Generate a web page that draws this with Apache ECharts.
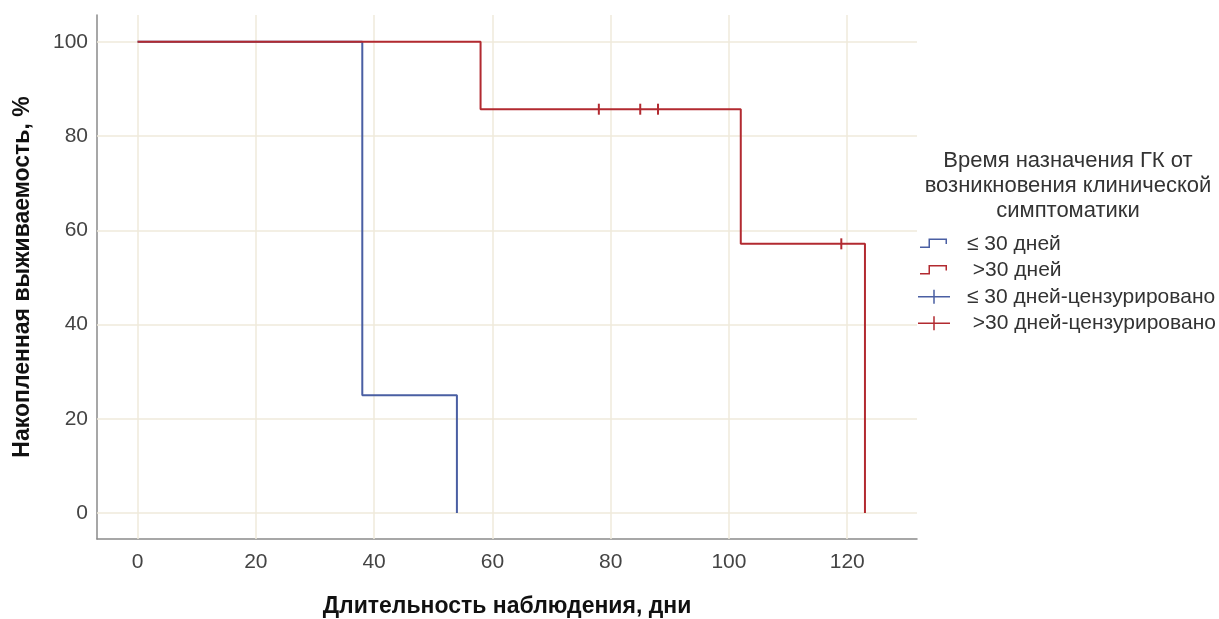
<!DOCTYPE html>
<html>
<head>
<meta charset="utf-8">
<script src="https://cdn.jsdelivr.net/npm/echarts@6/dist/echarts.min.js"></script>
<style>html,body{margin:0;padding:0;background:#fff}#c{width:1219px;height:619px}</style>
</head>
<body>
<div id="c"></div>
<script>
// ---- data ----
var xTicks = [0, 20, 40, 60, 80, 100, 120];
var yTicks = [0, 20, 40, 60, 80, 100];
// ≤ 30 дней: step curve (time, survival %)
var blueTimes = [0, 38, 54];
var blueSurv = [100, 25, 0];
// >30 дней
var redTimes = [0, 58, 102, 123];
var redSurv = [100, 85.71, 57.14, 0];
// censored observations
var blueCensTimes = [];
var blueCensSurv = [];
var redCensTimes = [78, 85, 88, 119];
var redCensSurv = [85.71, 85.71, 85.71, 57.14];
var seriesNames = ['≤ 30 дней', ' >30 дней', '≤ 30 дней-цензурировано', ' >30 дней-цензурировано'];
var legendTitle = 'Время назначения ГК от\nвозникновения клинической\nсимптоматики';
var xTitle = 'Длительность наблюдения, дни';
var yTitle = 'Накопленная выживаемость, %';

function zip(a, b) { return a.map(function (v, i) { return [v, b[i]]; }); }

var BLUE = '#4a5fa3';
var RED = '#b22a30';
var FONT = '"Liberation Sans", Arial, sans-serif';
var PAD = ' M0,0 L0.01,0 Z M32,14 L31.99,14 Z';
var stepIcon = 'path://M2,9.5 L10.5,9.5 L10.5,1.5 L29,1.5 L29,7 L27.5,7 L27.5,3 L12,3 L12,11 L2,11 Z' + PAD;
var plusIcon = 'path://M0,6.25 L32,6.25 L32,7.75 L0,7.75 Z M15.25,0 L16.75,0 L16.75,14 L15.25,14 Z' + PAD;

var chart = echarts.init(document.getElementById('c'));
chart.setOption({
  animation: false,
  backgroundColor: '#fff',
  grid: { left: 97, top: 15, right: 302, bottom: 80, containLabel: false, outerBoundsMode: 'none' },
  xAxis: {
    type: 'value', min: -6.86, max: 131.8,
    name: xTitle, nameLocation: 'middle', nameGap: 56,
    nameTextStyle: { fontFamily: FONT, fontSize: 23, fontWeight: 'bold', color: '#111' },
    axisLine: { show: true, onZero: false, lineStyle: { color: '#8a8a8a', width: 1.5 } },
    axisTick: { show: false },
    splitLine: { show: false },
    axisLabel: { show: true, customValues: xTicks, margin: 13, fontFamily: FONT, fontSize: 21, color: '#444' }
  },
  yAxis: {
    type: 'value', min: -5.5, max: 105.7,
    name: yTitle, nameLocation: 'middle', nameGap: 63, nameRotate: 90,
    nameTextStyle: { fontFamily: FONT, fontSize: 23, fontWeight: 'bold', color: '#111' },
    axisLine: { show: true, onZero: false, lineStyle: { color: '#8a8a8a', width: 1.5 } },
    axisTick: { show: false },
    splitLine: { show: false },
    axisLabel: { show: true, customValues: yTicks, margin: 9, fontFamily: FONT, fontSize: 21, color: '#444' }
  },
  legend: {
    orient: 'vertical', left: 913, top: 228.5,
    itemWidth: 32, itemHeight: 14, itemGap: 5.4,
    textStyle: { fontFamily: FONT, fontSize: 21, color: '#333', lineHeight: 20, padding: [0, 0, 0, 12] },
    data: [
      { name: seriesNames[0], icon: stepIcon, itemStyle: { color: BLUE } },
      { name: seriesNames[1], icon: stepIcon, itemStyle: { color: RED } },
      { name: seriesNames[2], icon: plusIcon, itemStyle: { color: BLUE } },
      { name: seriesNames[3], icon: plusIcon, itemStyle: { color: RED } }
    ]
  },
  graphic: [{
    type: 'text', x: 1068, y: 148,
    style: { text: legendTitle, fontFamily: FONT, fontSize: 22, fill: '#333', align: 'center', verticalAlign: 'top', lineHeight: 25 }
  }],
  series: [
    // gridlines at the tick values
    {
      type: 'line', data: [], silent: true, z: 1,
      markLine: {
        silent: true, symbol: 'none', animation: false,
        lineStyle: { color: '#efeadb', width: 1.5, type: 'solid' },
        label: { show: false },
        emphasis: { disabled: true },
        data: xTicks.map(function (v) { return { xAxis: v }; }).concat(yTicks.map(function (v) { return { yAxis: v }; }))
      }
    },
    {
      name: seriesNames[0], type: 'line', step: 'end', data: zip(blueTimes, blueSurv),
      showSymbol: false, lineStyle: { color: BLUE, width: 2 }, itemStyle: { color: BLUE }, z: 5
    },
    {
      name: seriesNames[1], type: 'line', step: 'end', data: zip(redTimes, redSurv),
      showSymbol: false, lineStyle: { color: RED, width: 2 }, itemStyle: { color: RED }, z: 6
    },
    {
      name: seriesNames[2], type: 'scatter', data: zip(blueCensTimes, blueCensSurv),
      symbol: 'rect', symbolSize: [2, 11], itemStyle: { color: BLUE, opacity: 1 }, z: 7
    },
    {
      name: seriesNames[3], type: 'scatter', data: zip(redCensTimes, redCensSurv),
      symbol: 'rect', symbolSize: [2, 11], itemStyle: { color: RED, opacity: 1 }, z: 7
    }
  ]
});
</script>
</body>
</html>
